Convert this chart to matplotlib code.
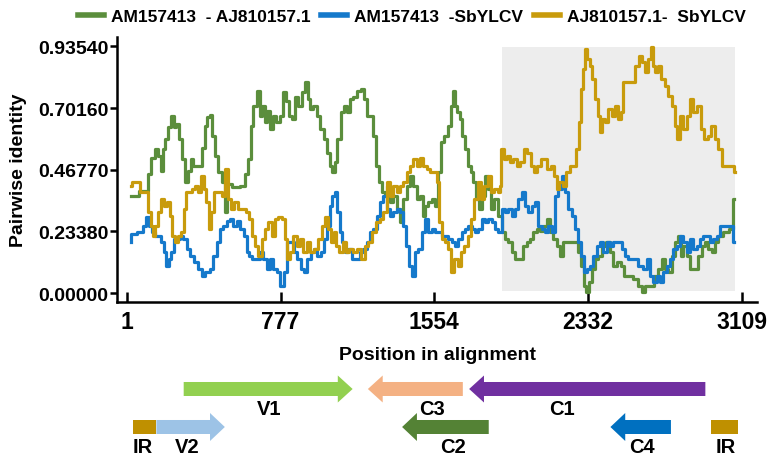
import matplotlib
matplotlib.use("Agg")
import matplotlib.pyplot as plt
from matplotlib.patches import Polygon, Rectangle
from matplotlib import font_manager

names = [f.name for f in font_manager.fontManager.ttflist]
NARROW = 'Liberation Sans Narrow' if 'Liberation Sans Narrow' in names else 'Liberation Sans'
plt.rcParams['font.family'] = ['Liberation Sans', 'DejaVu Sans']
plt.rcParams['font.weight'] = 'bold'

# AM157413 - AJ810157.1
green_x = [19, 100, 114, 134, 151, 164, 176, 188, 201, 218, 232, 244, 255, 269, 286, 303, 316, 328,
           345, 370, 387, 400, 412, 424, 437, 454, 471, 488, 501, 513, 547, 592, 606, 623,
           631, 648, 668, 678, 690, 701, 715, 732, 745, 765, 782, 796, 813, 824, 841, 858, 875,
           892, 909, 920, 934, 951, 968, 988, 1005, 1018, 1032, 1044, 1055, 1072, 1089, 1103,
           1119, 1136, 1153, 1173, 1190, 1207, 1224, 1237, 1254, 1266, 1280, 1296, 1310, 1322,
           1339, 1355, 1372, 1389, 1406, 1423, 1440, 1456, 1473, 1490, 1502, 1515, 1532, 1549,
           1566, 1583, 1596, 1613, 1630, 1642, 1654, 1664, 1676, 1687, 1701, 1718, 1731, 1743,
           1760, 1772, 1785, 1802, 1819, 1832, 1849, 1866, 1886, 1903, 1920, 1937, 1954, 1971,
           1996, 2013, 2030, 2046, 2063, 2080, 2097, 2114, 2131, 2147, 2164, 2181, 2198, 2215,
           2249, 2274, 2291, 2302, 2316, 2329, 2341, 2358, 2375, 2392, 2409, 2431, 2451, 2468,
           2488, 2510, 2518, 2544, 2569, 2594, 2611, 2628, 2653, 2678, 2695, 2712, 2729, 2746,
           2763, 2779, 2793, 2805, 2822, 2838, 2855, 2881, 2897, 2914, 2931, 2948, 2965, 2982,
           2998, 3032, 3058, 3069]
green_y = [0.369, 0.388, 0.451, 0.514, 0.546, 0.521, 0.464, 0.546, 0.584, 0.628, 0.672, 0.628, 0.641,
           0.584, 0.508, 0.420, 0.464, 0.508, 0.483, 0.483, 0.552, 0.635, 0.666, 0.675, 0.597,
           0.521, 0.458, 0.420, 0.306, 0.413, 0.401, 0.407, 0.451, 0.508,
           0.635, 0.710, 0.767, 0.672, 0.710, 0.647, 0.691, 0.622, 0.672, 0.647, 0.672, 0.761,
           0.729, 0.672, 0.660, 0.742, 0.710, 0.761, 0.799, 0.736, 0.698, 0.710, 0.672, 0.622,
           0.584, 0.533, 0.483, 0.458, 0.496, 0.584, 0.685, 0.710, 0.685, 0.736, 0.742, 0.767,
           0.774, 0.736, 0.672, 0.672, 0.597, 0.483, 0.420, 0.382, 0.369, 0.407, 0.344, 0.369,
           0.319, 0.268, 0.356, 0.407, 0.445, 0.407, 0.356, 0.369, 0.293, 0.331, 0.344, 0.356,
           0.331, 0.458, 0.571, 0.597, 0.635, 0.710, 0.767, 0.710, 0.685, 0.660, 0.597, 0.546,
           0.483, 0.458, 0.420, 0.356, 0.319, 0.369, 0.445, 0.394, 0.319, 0.356, 0.293, 0.230,
           0.205, 0.192, 0.154, 0.129, 0.129, 0.180, 0.192, 0.205, 0.230, 0.243, 0.236, 0.255,
           0.281, 0.230, 0.205, 0.180, 0.142, 0.192, 0.192, 0.192, 0.154, 0.104, 0.028, 0.003,
           0.040, 0.091, 0.129, 0.142, 0.180, 0.192, 0.154, 0.104, 0.116, 0.104, 0.066, 0.066,
           0.053, 0.028, 0.003, 0.028, 0.028, 0.066, 0.091, 0.129, 0.091, 0.078, 0.142, 0.192,
           0.217, 0.142, 0.180, 0.142, 0.091, 0.091, 0.142, 0.180, 0.192, 0.167, 0.154, 0.192,
           0.217, 0.230, 0.243, 0.356]

# AM157413 - SbYLCV
blue_x = [19, 24, 75, 92, 104, 121, 134, 151, 168, 181, 193, 205, 218, 232, 244, 260, 277, 294,
          311, 328, 350, 370, 387, 407, 429, 446, 463, 480, 496, 513, 530, 547, 564, 581, 598,
          614, 622, 639, 664, 681, 698, 715, 732, 749, 766, 786, 803, 819, 836, 853, 870, 887,
          904, 920, 937, 954, 971, 988, 1005, 1018, 1032, 1044, 1055, 1069, 1082, 1096, 1111,
          1128, 1145, 1167, 1187, 1204, 1220, 1237, 1254, 1271, 1288, 1305, 1322, 1339, 1355,
          1372, 1389, 1406, 1418, 1431, 1448, 1465, 1482, 1499, 1515, 1532, 1549, 1566, 1583,
          1600, 1617, 1633, 1650, 1667, 1684, 1701, 1718, 1735, 1751, 1768, 1785, 1802, 1819,
          1836, 1852, 1869, 1886, 1903, 1920, 1937, 1954, 1971, 1987, 2004, 2021, 2038, 2055,
          2072, 2088, 2105, 2122, 2139, 2156, 2173, 2190, 2206, 2223, 2240, 2257, 2274, 2291,
          2302, 2316, 2333, 2350, 2366, 2383, 2400, 2417, 2434, 2451, 2468, 2493, 2515, 2518,
          2544, 2569, 2594, 2619, 2636, 2653, 2670, 2687, 2704, 2720, 2737, 2754, 2771, 2788,
          2805, 2822, 2838, 2855, 2872, 2889, 2906, 2923, 2940, 2956, 2973, 2990, 3007, 3032,
          3058, 3069]
blue_y = [0.192, 0.224, 0.230, 0.255, 0.287, 0.255, 0.230, 0.217, 0.217, 0.192, 0.154, 0.104, 0.129,
          0.154, 0.205, 0.205, 0.217, 0.205, 0.167, 0.142, 0.116, 0.091, 0.066, 0.078, 0.091,
          0.142, 0.192, 0.243, 0.255, 0.274, 0.281, 0.255, 0.274, 0.243, 0.217, 0.154, 0.142,
          0.129, 0.129, 0.154, 0.129, 0.091, 0.129, 0.091, 0.078, 0.028, 0.078, 0.192, 0.192,
          0.154, 0.129, 0.091, 0.078, 0.129, 0.154, 0.167, 0.142, 0.154, 0.205, 0.255, 0.331,
          0.369, 0.382, 0.306, 0.230, 0.192, 0.154, 0.167, 0.129, 0.129, 0.154, 0.167, 0.192,
          0.230, 0.243, 0.293, 0.344, 0.369, 0.319, 0.293, 0.306, 0.319, 0.306, 0.255, 0.180,
          0.104, 0.066, 0.154, 0.167, 0.230, 0.281, 0.230, 0.243, 0.230, 0.230, 0.217, 0.217,
          0.205, 0.192, 0.180, 0.205, 0.230, 0.243, 0.255, 0.243, 0.230, 0.243, 0.281, 0.268,
          0.281, 0.268, 0.243, 0.230, 0.319, 0.306, 0.319, 0.293, 0.319, 0.356, 0.382, 0.331,
          0.306, 0.331, 0.344, 0.255, 0.243, 0.230, 0.255, 0.230, 0.369, 0.394, 0.445, 0.382,
          0.319, 0.293, 0.243, 0.192, 0.142, 0.078, 0.091, 0.104, 0.142, 0.180, 0.192, 0.154,
          0.192, 0.180, 0.192, 0.192, 0.167, 0.142, 0.129, 0.129, 0.104, 0.091, 0.129, 0.066,
          0.040, 0.066, 0.040, 0.078, 0.104, 0.129, 0.167, 0.180, 0.217, 0.192, 0.154, 0.205,
          0.167, 0.180, 0.205, 0.217, 0.217, 0.192, 0.205, 0.217, 0.255, 0.255, 0.255, 0.192]

# AJ810157.1 - SbYLCV
gold_x = [19, 33, 100, 114, 126, 137, 151, 168, 181, 193, 210, 222, 235, 248, 265, 282, 294, 306,
          323, 336, 353, 370, 384, 395, 407, 421, 434, 446, 471, 488, 505, 518, 535, 551, 568,
          589, 614, 622, 639, 656, 673, 690, 707, 723, 740, 757, 774, 791, 803, 816, 833, 850,
          867, 883, 900, 917, 934, 954, 976, 993, 1010, 1027, 1038, 1052, 1065, 1082, 1099,
          1116, 1133, 1153, 1173, 1195, 1212, 1229, 1251, 1271, 1288, 1305, 1322, 1339, 1355,
          1372, 1389, 1406, 1423, 1440, 1456, 1473, 1490, 1507, 1524, 1541, 1558, 1574, 1586,
          1600, 1617, 1633, 1647, 1664, 1681, 1697, 1714, 1731, 1748, 1765, 1782, 1799, 1815,
          1832, 1849, 1866, 1883, 1886, 1898, 1912, 1928, 1945, 1962, 1979, 1996, 2016, 2033,
          2050, 2067, 2083, 2100, 2117, 2134, 2151, 2168, 2178, 2195, 2211, 2228, 2249, 2265,
          2279, 2291, 2302, 2313, 2321, 2333, 2346, 2360, 2375, 2387, 2397, 2409, 2425, 2442,
          2459, 2476, 2493, 2501, 2513, 2535, 2560, 2581, 2597, 2614, 2628, 2641, 2653, 2665,
          2678, 2692, 2709, 2729, 2746, 2763, 2776, 2788, 2805, 2822, 2838, 2855, 2872, 2894,
          2911, 2928, 2945, 2965, 2982, 2998, 3015, 3041, 3063, 3074]
gold_y = [0.407, 0.420, 0.382, 0.306, 0.255, 0.217, 0.255, 0.306, 0.356, 0.331, 0.344, 0.293, 0.217,
          0.192, 0.217, 0.230, 0.319, 0.382, 0.382, 0.394, 0.407, 0.382, 0.445, 0.394, 0.344,
          0.243, 0.306, 0.382, 0.382, 0.369, 0.470, 0.356, 0.319, 0.344, 0.319, 0.319, 0.306,
          0.281, 0.217, 0.180, 0.142, 0.205, 0.243, 0.268, 0.217, 0.281, 0.287, 0.281, 0.205,
          0.129, 0.154, 0.217, 0.180, 0.205, 0.154, 0.192, 0.154, 0.167, 0.205, 0.255, 0.287,
          0.243, 0.192, 0.230, 0.180, 0.154, 0.192, 0.154, 0.167, 0.154, 0.167, 0.129, 0.180,
          0.192, 0.230, 0.268, 0.281, 0.306, 0.420, 0.369, 0.407, 0.382, 0.407, 0.420, 0.458,
          0.483, 0.508, 0.483, 0.514, 0.483, 0.470, 0.458, 0.458, 0.420, 0.268, 0.205, 0.192,
          0.167, 0.078, 0.129, 0.104, 0.154, 0.180, 0.217, 0.281, 0.356, 0.420, 0.356, 0.407,
          0.445, 0.382, 0.394, 0.382, 0.407, 0.546, 0.508, 0.521, 0.496, 0.508, 0.483, 0.496,
          0.546, 0.533, 0.483, 0.458, 0.483, 0.508, 0.508, 0.470, 0.483, 0.445, 0.394, 0.420,
          0.407, 0.458, 0.483, 0.483, 0.546, 0.647, 0.774, 0.850, 0.925, 0.887, 0.862, 0.812,
          0.736, 0.672, 0.609, 0.660, 0.647, 0.698, 0.672, 0.710, 0.660, 0.685, 0.799, 0.799,
          0.799, 0.862, 0.900, 0.875, 0.837, 0.887, 0.932, 0.862, 0.837, 0.862, 0.812, 0.786,
          0.748, 0.710, 0.635, 0.584, 0.672, 0.622, 0.672, 0.736, 0.685, 0.710, 0.622, 0.584,
          0.597, 0.635, 0.584, 0.546, 0.483, 0.483, 0.483, 0.458]

series_labels = ['AM157413  - AJ810157.1', 'AM157413  -SbYLCV', 'AJ810157.1-  SbYLCV']
series_colors = ['#5B8E3C', '#1579CB', '#C89B0C']

y_ticks = [0.0, 0.2338, 0.4677, 0.7016, 0.9354]
y_ticklabels = ['0.00000', '0.23380', '0.46770', '0.70160', '0.93540']
x_ticks = [1, 777, 1554, 2332, 3109]

# shaded region of the alignment
shade_start, shade_end = 1896, 3074
shade_low, shade_high = 0.008, 0.932

# genome map (alignment positions)
gene_names = ['V1', 'C3', 'C1', 'IR', 'V2', 'C2', 'C4', 'IR']
gene_start = [287, 1698, 2924, 29, 149, 1829, 2750, 2955]
gene_end = [1141, 1218, 1730, 149, 495, 1391, 2444, 3090]
gene_row = [0, 0, 0, 1, 1, 1, 1, 1]
gene_colors = ['#92D050', '#F4B183', '#7030A0', '#BF9000', '#9DC3E6', '#548235', '#0070C0', '#BF9000']
gene_label_x = [718, 1540, 2197, 82, 303, 1649, 2602, 3029]

fig = plt.figure(figsize=(7.76, 4.64), dpi=100)
ax = fig.add_axes([0.1508, 0.347, 0.8247, 0.571])

ax.add_patch(Rectangle((shade_start, shade_low), shade_end - shade_start, shade_high - shade_low,
                       facecolor='#EDEDED', edgecolor='none', zorder=0))

for xs, ys, lab, col in zip([green_x, blue_x, gold_x], [green_y, blue_y, gold_y],
                            series_labels, series_colors):
    ax.plot(xs, ys, drawstyle='steps-mid', color=col, lw=2.3, label=lab, zorder=2)

ax.set_xlim(-50, 3185)
ax.set_ylim(-0.034, 0.971)
ax.set_yticks(y_ticks)
ax.set_yticklabels(y_ticklabels)
ax.set_xticks(x_ticks)
ax.set_xticklabels([str(t) for t in x_ticks], fontfamily=NARROW, fontsize=16.5)
for s in ['top', 'right']:
    ax.spines[s].set_visible(False)
for s in ['left', 'bottom']:
    ax.spines[s].set_linewidth(1.8)
ax.tick_params(axis='y', direction='out', length=5, width=1.8, labelsize=14, pad=1)
ax.tick_params(axis='x', direction='in', length=7, width=1.8, pad=6)
ax.set_ylabel('Pairwise identity', fontsize=14, fontweight='bold', labelpad=8)
ax.set_xlabel('Position in alignment', fontsize=14, fontweight='bold', labelpad=9)

fig.legend(loc='center', bbox_to_anchor=(0.531, 0.963), ncol=3, frameon=False,
           prop={'family': NARROW, 'weight': 'bold', 'size': 12.5},
           handlelength=1.5, handletextpad=0.4, columnspacing=0.6)
for line in fig.legends[0].get_lines():
    line.set_linewidth(4)

# genome map below the plot, sharing the alignment scale
gx = fig.add_axes([0.1508, 0.0, 0.8247, 0.2026])
gx.set_xlim(ax.get_xlim())
gx.set_ylim(464, 370)
gx.axis('off')
row_y = [390, 428]
body_h = [7, 7]
head_h = [13.5, 14]
head_len = 75
for name, s, e, r, c in zip(gene_names, gene_start, gene_end, gene_row, gene_colors):
    y0 = row_y[r]
    if name == 'IR':
        gx.add_patch(Rectangle((s, y0 - body_h[r]), e - s, 2 * body_h[r], facecolor=c, edgecolor='none'))
        continue
    d = 1 if e > s else -1
    base = e - d * head_len
    pts = [(s, y0 - body_h[r]), (base, y0 - body_h[r]), (base, y0 - head_h[r]), (e, y0),
           (base, y0 + head_h[r]), (base, y0 + body_h[r]), (s, y0 + body_h[r])]
    gx.add_patch(Polygon(pts, closed=True, facecolor=c, edgecolor='none'))

label_y = [410, 448]
for name, lx, r in zip(gene_names, gene_label_x, gene_row):
    gx.text(lx, label_y[r], name, ha='center', va='center', fontsize=14.5, fontweight='bold')

fig.savefig('out.png', dpi=100)
